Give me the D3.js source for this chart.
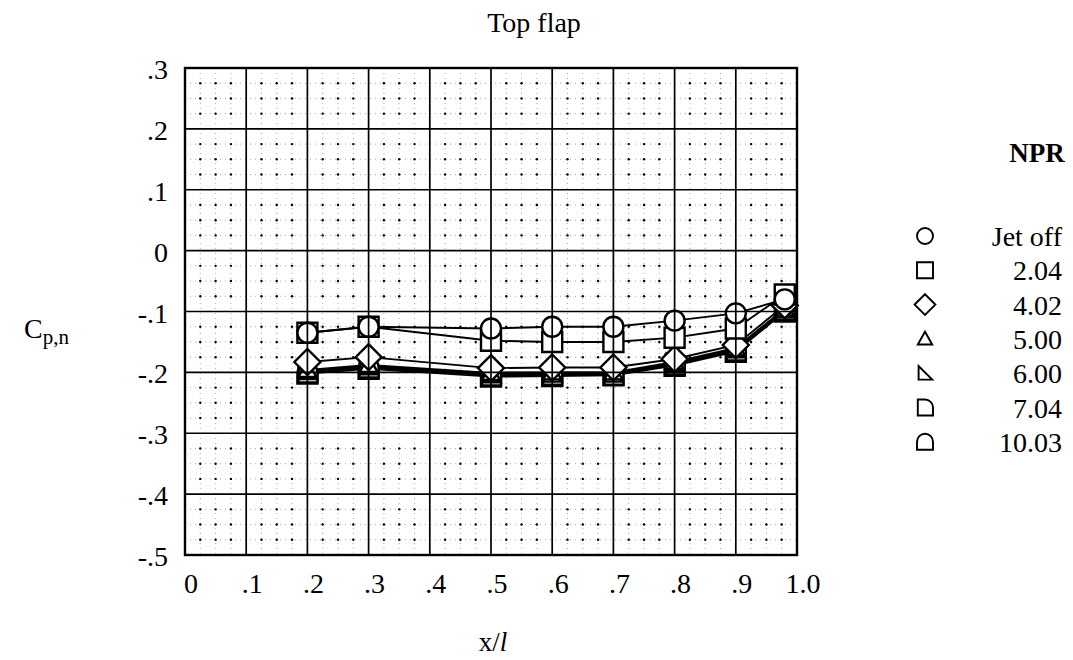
<!DOCTYPE html>
<html>
<head>
<meta charset="utf-8">
<script src="https://cdn.jsdelivr.net/npm/d3@7"></script>
<style>
  body { margin: 0; background: #fff; }
  svg { display: block; }
  text { font-family: "Liberation Serif", "Times New Roman", serif; fill: #000; }
</style>
</head>
<body>
<svg id="chart" width="1073" height="660"></svg>
<script>
// ---- data ----
const xPositions = [0.2, 0.3, 0.5, 0.6, 0.7, 0.8, 0.9, 0.98];
const seriesNames = ["Jet off", "2.04", "4.02", "5.00", "6.00", "7.04", "10.03"];
const jetOff  = [-0.135, -0.125, -0.128, -0.125, -0.125, -0.115, -0.103, -0.080];
const npr204  = [-0.135, -0.125, -0.148, -0.150, -0.150, -0.143, -0.128, -0.072];
const npr402  = [-0.183, -0.175, -0.193, -0.192, -0.192, -0.178, -0.155, -0.090];
const npr500  = [-0.196, -0.188, -0.201, -0.200, -0.200, -0.183, -0.160, -0.095];
const npr600  = [-0.198, -0.190, -0.203, -0.202, -0.202, -0.185, -0.162, -0.097];
const npr704  = [-0.200, -0.192, -0.205, -0.204, -0.204, -0.187, -0.164, -0.098];
const npr1003 = [-0.202, -0.194, -0.207, -0.206, -0.205, -0.189, -0.166, -0.100];
const seriesValues = [jetOff, npr204, npr402, npr500, npr600, npr704, npr1003];
const xTicks = [0, 0.1, 0.2, 0.3, 0.4, 0.5, 0.6, 0.7, 0.8, 0.9, 1.0];
const xTickLabels = ["0", ".1", ".2", ".3", ".4", ".5", ".6", ".7", ".8", ".9", "1.0"];
const yTicks = [0.3, 0.2, 0.1, 0, -0.1, -0.2, -0.3, -0.4, -0.5];
const yTickLabels = [".3", ".2", ".1", "0", "-.1", "-.2", "-.3", "-.4", "-.5"];

// ---- layout ----
const svg = d3.select("#chart");
const L = 185, R = 797, T = 68, B = 555;
const x = d3.scaleLinear().domain([0, 1]).range([L, R]);
const y = d3.scaleLinear().domain([-0.5, 0.3]).range([B, T]);

// marker shapes
const shapes = {
  circle: "M10,0A10,10 0 1 1 -10,0A10,10 0 1 1 10,0Z",
  square: "M-10,-10L10,-10L10,10L-10,10Z",
  diamond: "M0,-13L13,0L0,13L-13,0Z",
  triangle: "M0,-9L9,7L-9,7Z",
  rtri: "M-8,-9L-8,8L9,8Z",
  dshape: "M-9,-10L-9,10L10,10L10,0A10,10 0 0 0 0,-10Z",
  arch: "M-10,10L-10,0A10,10 0 0 1 10,0L10,10Z"
};
const seriesShapes = ["circle", "square", "diamond", "triangle", "rtri", "dshape", "arch"];

// ---- minor grid ----
const minorX = d3.range(0, 40).map(i => i * 0.025).filter((v, i) => i % 4 !== 0);
const minorY = d3.range(0, 32).map(i => -0.5 + i * 0.025).filter((v, i) => i % 4 !== 0);
const g = svg.append("g");
g.selectAll("line.mx").data(minorX).enter().append("line")
  .attr("x1", d => x(d)).attr("x2", d => x(d)).attr("y1", T).attr("y2", B)
  .attr("stroke", "#888").attr("stroke-width", 0.7).attr("stroke-dasharray", "1,4");
g.selectAll("line.my").data(minorY).enter().append("line")
  .attr("y1", d => y(d)).attr("y2", d => y(d)).attr("x1", L).attr("x2", R)
  .attr("stroke", "#888").attr("stroke-width", 0.7).attr("stroke-dasharray", "1,4");
const dots = [];
minorX.forEach(a => minorY.forEach(b => dots.push([a, b])));
g.selectAll("circle.dot").data(dots).enter().append("circle")
  .attr("cx", d => x(d[0])).attr("cy", d => y(d[1])).attr("r", 1.2).attr("fill", "#000");

// ---- series lines ----
const line = d3.line().x((d, i) => x(xPositions[i])).y(d => y(d));
seriesValues.forEach((vals, si) => {
  svg.append("path").datum(vals).attr("d", line)
    .attr("fill", "none").attr("stroke", "#000").attr("stroke-width", 1.9);
});

// ---- markers (drawn last series first) ----
for (let si = seriesValues.length - 1; si >= 0; si--) {
  svg.append("g").selectAll("path").data(seriesValues[si]).enter().append("path")
    .attr("d", shapes[seriesShapes[si]])
    .attr("transform", (d, i) => `translate(${x(xPositions[i])},${y(d)})`)
    .attr("fill", "#fff").attr("stroke", "#000").attr("stroke-width", 2.4);
}

// ---- major grid on top ----
const gm = svg.append("g");
gm.selectAll("line.gx").data(xTicks).enter().append("line")
  .attr("x1", d => x(d)).attr("x2", d => x(d)).attr("y1", T).attr("y2", B)
  .attr("stroke", "#000").attr("stroke-width", 1.7);
gm.selectAll("line.gy").data(yTicks).enter().append("line")
  .attr("y1", d => y(d)).attr("y2", d => y(d)).attr("x1", L).attr("x2", R)
  .attr("stroke", "#000").attr("stroke-width", 1.7);
gm.append("rect").attr("x", L).attr("y", T).attr("width", R - L).attr("height", B - T)
  .attr("fill", "none").attr("stroke", "#000").attr("stroke-width", 2.4);

// ---- tick labels ----
svg.append("g").selectAll("text").data(xTicks).enter().append("text")
  .attr("x", d => x(d) + 6).attr("y", 593).attr("text-anchor", "middle")
  .attr("font-size", 28).text((d, i) => xTickLabels[i]);
svg.append("g").selectAll("text").data(yTicks).enter().append("text")
  .attr("x", 168).attr("y", d => y(d) + 11).attr("text-anchor", "end")
  .attr("font-size", 28).text((d, i) => yTickLabels[i]);

// ---- titles ----
svg.append("text").attr("x", 534).attr("y", 32).attr("text-anchor", "middle")
  .attr("font-size", 28).text("Top flap");
const yl = svg.append("text").attr("x", 24).attr("y", 338).attr("font-size", 28);
yl.append("tspan").text("C");
yl.append("tspan").attr("font-size", 21).attr("dy", 6).text("p,n");
const xl = svg.append("text").attr("x", 493).attr("y", 651).attr("text-anchor", "middle").attr("font-size", 27);
xl.append("tspan").text("x/");
xl.append("tspan").attr("font-style", "italic").text("l");

// ---- legend ----
svg.append("text").attr("x", 1037).attr("y", 162).attr("text-anchor", "middle")
  .attr("font-size", 27).attr("font-weight", "bold").text("NPR");
const leg = svg.append("g").selectAll("g").data(seriesNames).enter().append("g")
  .attr("transform", (d, i) => `translate(0,${236 + i * 34.3})`);
leg.append("path").attr("d", (d, i) => shapes[seriesShapes[i]])
  .attr("transform", "translate(925,0) scale(0.8)")
  .attr("fill", "none").attr("stroke", "#000").attr("stroke-width", 2.4);
leg.append("text").attr("x", 1062).attr("y", 10).attr("text-anchor", "end")
  .attr("font-size", 28).text(d => d);
</script>
</body>
</html>
